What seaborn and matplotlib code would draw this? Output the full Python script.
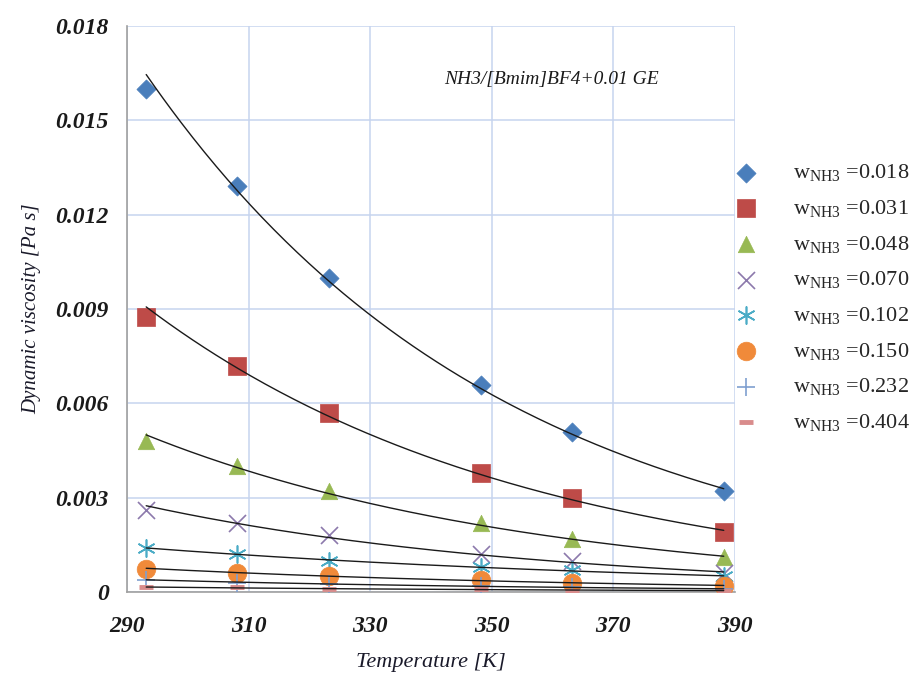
import numpy as np
import pandas as pd
import matplotlib
matplotlib.use("Agg")
import matplotlib.pyplot as plt
import seaborn as sns

# ---- data ----
temperature = [293.15, 308.15, 323.15, 348.15, 363.15, 388.15]
w018 = [0.0160, 0.0129, 0.0100, 0.0066, 0.0051, 0.0032]
w031 = [0.00876, 0.0072, 0.0057, 0.0038, 0.0030, 0.0019]
w048 = [0.0048, 0.0040, 0.0032, 0.0022, 0.0017, 0.0011]
w070 = [0.0026, 0.0022, 0.0018, 0.0012, 0.0010, 0.0006]
w102 = [0.0014, 0.0012, 0.0010, 0.0008, 0.0007, 0.0005]
w150 = [0.00075, 0.0006, 0.0005, 0.0004, 0.0003, 0.0002]
w232 = [0.0004, 0.0003, 0.00025, 0.0002, 0.00015, 0.0001]
w404 = [0.00015, 0.00015, 0.0001, 0.0001, 0.00005, 0.00005]
fractions = ["0.018", "0.031", "0.048", "0.070", "0.102", "0.150", "0.232", "0.404"]
series = [w018, w031, w048, w070, w102, w150, w232, w404]
x_ticks = [290, 310, 330, 350, 370, 390]
y_ticks = [0, 0.003, 0.006, 0.009, 0.012, 0.015, 0.018]
y_ticklabels = ["0", "0.003", "0.006", "0.009", "0.012", "0.015", "0.018"]
annotation = "NH3/[Bmim]BF4+0.01 GE"

# ---- styles ----
colors = ["#4A7EBB", "#BE4B48", "#98B954", "#8C79AC", "#4BACC6", "#F08A3A", "#7F9FD0", "#D98C8C"]
markers = ["D", "s", "^", "x", (6, 2, 0), "o", "+", "_"]
sizes = [95, 160, 140, 150, 150, 180, 150, 90]

sns.set_theme(style="white")
plt.rcParams["font.family"] = ["Liberation Serif", "DejaVu Serif"]
plt.rcParams["mathtext.fontset"] = "custom"
plt.rcParams["mathtext.rm"] = "Liberation Serif"
plt.rcParams["mathtext.it"] = "Liberation Serif:italic"

fig = plt.figure(figsize=(9.16, 6.79), dpi=100)
ax = fig.add_axes([0.1387, 0.128, 0.6637, 0.8337])

for frac, vals, c, m, s in zip(fractions, series, colors, markers, sizes):
    df = pd.DataFrame({"T": temperature, "mu": vals})
    label = r"$\mathrm{w}_{\mathrm{NH3}}$ =" + frac
    if m in ("x", "+", "_", (6, 2, 0)):
        lw = 3.5 if m == "_" else 1.2
        sns.scatterplot(data=df, x="T", y="mu", ax=ax, marker=m, s=s,
                        color=c, linewidth=lw, zorder=3, label=label)
    else:
        sns.scatterplot(data=df, x="T", y="mu", ax=ax, marker=m, s=s,
                        color=c, edgecolor=c, linewidth=0.5, zorder=3, label=label)
    # exponential trendline fitted to the data
    b, a = np.polyfit(df["T"], np.log(df["mu"]), 1)
    tt = np.linspace(temperature[0], temperature[-1], 200)
    sns.lineplot(x=tt, y=np.exp(a + b * tt), ax=ax, color="#1a1a1a",
                 linewidth=1.0, zorder=4, legend=False)

ax.set_xlim(290, 390)
ax.set_ylim(0, 0.018)
ax.set_xticks(x_ticks)
ax.set_yticks(y_ticks)
ax.set_xticklabels([str(v) for v in x_ticks], fontsize=17, style="italic", weight="bold")
ax.set_yticklabels(y_ticklabels, fontsize=17, style="italic", weight="bold")
ax.tick_params(axis="both", colors="#a0a0a0", length=5, width=1, direction="out",
               labelcolor="#1a1a1a")
ax.tick_params(axis="x", pad=12)
ax.tick_params(axis="y", pad=8)
ax.grid(True, color="#c6d4ef", linewidth=1.1)
for sp in ["top", "right"]:
    ax.spines[sp].set_visible(False)
for sp in ["left", "bottom"]:
    ax.spines[sp].set_color("#a0a0a0")
    ax.spines[sp].set_linewidth(1.2)
ax.set_xlabel("Temperature [K]", fontsize=16, style="italic", labelpad=12, color="#1a1a2a")
ax.set_ylabel("Dynamic viscosity [Pa s]", fontsize=15, style="italic", labelpad=10, color="#1a1a2a")

ax.text(0.521, 0.905, annotation, transform=ax.transAxes, fontsize=14,
        style="italic", ha="left", va="center", color="#1a1a1a")

leg = ax.legend(loc="upper left", bbox_to_anchor=(0.793, 0.774), bbox_transform=fig.transFigure,
                frameon=False, fontsize=16, labelspacing=0.66, handletextpad=1.6,
                handlelength=1.0, borderaxespad=0)

fig.savefig("out.png", dpi=100)
